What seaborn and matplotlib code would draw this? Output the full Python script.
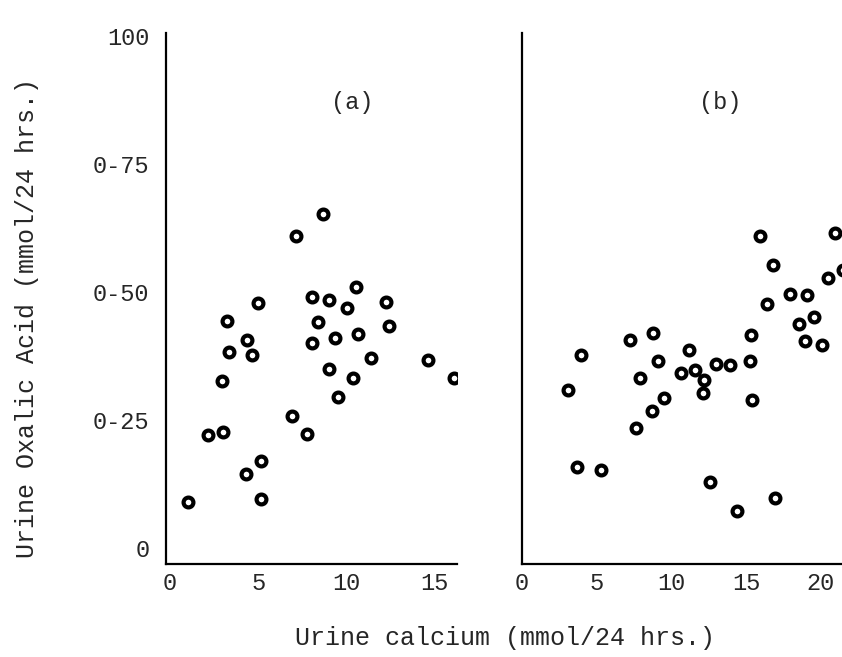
import matplotlib
matplotlib.use("Agg")
import matplotlib.pyplot as plt
import seaborn as sns
import pandas as pd

# ---- data ----
calcium_a = [8.69, 7.12, 10.54, 8.07, 9.00, 5.01, 12.24, 10.05, 3.23, 8.37, 12.43,
             10.66, 9.35, 4.35, 8.07, 3.36, 4.67, 11.38, 14.61, 9.01, 16.10, 10.39,
             2.97, 9.54, 6.92, 2.14, 3.02, 7.75, 5.16, 4.31, 1.00, 5.16]
oxalic_a = [65.2, 61.0, 51.0, 49.1, 48.4, 47.8, 48.1, 46.9, 44.4, 44.1, 43.4,
            41.9, 41.1, 40.6, 40.1, 38.3, 37.8, 37.2, 36.7, 34.9, 33.3, 33.3,
            32.7, 29.6, 25.8, 22.1, 22.6, 22.3, 17.0, 14.5, 9.0, 9.6]

calcium_b = [15.95, 20.98, 16.84, 21.50, 20.49, 17.92, 19.10, 16.40, 19.53, 18.54,
             8.76, 7.24, 18.97, 20.10, 15.35, 3.95, 11.21, 9.14, 15.30, 13.96,
             13.00, 11.60, 10.66, 7.93, 12.22, 3.06, 12.11, 9.54, 15.42, 8.71,
             7.64, 3.69, 5.29, 12.60, 16.96, 14.41]
oxalic_b = [61.0, 61.5, 55.3, 54.3, 52.8, 49.7, 49.4, 47.6, 45.1, 43.75,
            42.1, 40.6, 40.4, 39.6, 41.6, 37.7, 38.7, 36.6, 36.6, 35.7,
            35.9, 34.8, 34.2, 33.3, 32.8, 30.9, 30.2, 29.4, 28.9, 26.8,
            23.5, 15.8, 15.2, 12.95, 9.7, 7.2]

y_ticks = [0, 25, 50, 75, 100]
y_tick_labels = ["0", "0-25", "0-50", "0-75", "100"]
x_ticks_a = [0, 5, 10, 15]
x_ticks_b = [0, 5, 10, 15, 20]
panel_labels = ["(a)", "(b)"]

df_a = pd.DataFrame({"calcium": calcium_a, "oxalic": oxalic_a})
df_b = pd.DataFrame({"calcium": calcium_b, "oxalic": oxalic_b})

sns.set_style("white")
plt.rcParams["font.family"] = ["Liberation Mono", "DejaVu Sans Mono"]

W, H = 842, 657
fig = plt.figure(figsize=(W / 100, H / 100), dpi=100)
fig.patch.set_facecolor("white")

ax_a = fig.add_axes([166 / W, 93 / H, 291 / W, 531 / H])
ax_b = fig.add_axes([522 / W, 93 / H, 330 / W, 531 / H])

marker_kw = dict(s=50, facecolor="white", edgecolor="black", linewidth=3.0,
                 marker="o", zorder=3, legend=False)

sns.scatterplot(data=df_a, x="calcium", y="oxalic", ax=ax_a, **marker_kw)
sns.scatterplot(data=df_b, x="calcium", y="oxalic", ax=ax_b, **marker_kw)

ylim = (-3.1, 100.6)
ax_a.set_xlim(-0.23, 16.27)
ax_b.set_xlim(0, 22.1)
for ax in (ax_a, ax_b):
    ax.set_ylim(*ylim)
    ax.set_xlabel("")
    ax.set_ylabel("")
    for side in ("top", "right"):
        ax.spines[side].set_visible(False)
    for side in ("left", "bottom"):
        ax.spines[side].set_linewidth(1.6)
        ax.spines[side].set_color("black")
    ax.set_yticks(y_ticks)
    ax.tick_params(axis="y", direction="in", length=10, width=1.6, color="black",
                   pad=12, labelsize=17)
    ax.tick_params(axis="x", length=0, pad=6, labelsize=17)
    ax.set_facecolor("white")

ax_a.set_yticklabels(y_tick_labels)
ax_b.set_yticklabels([""] * len(y_ticks))
ax_a.set_xticks(x_ticks_a)
ax_a.set_xticklabels([str(t) for t in x_ticks_a])
ax_b.set_xticks(x_ticks_b)
ax_b.set_xticklabels([str(t) for t in x_ticks_b])

ax_a.text(10.3, 87, panel_labels[0], ha="center", va="center", fontsize=17)
ax_b.text(13.3, 87, panel_labels[1], ha="center", va="center", fontsize=17)

fig.text(505 / W, 1 - 638 / H, "Urine calcium (mmol/24 hrs.)",
         ha="center", va="center", fontsize=18)
fig.text(27 / W, 1 - 318 / H, "Urine Oxalic Acid (mmol/24 hrs.)",
         ha="center", va="center", rotation=90, fontsize=18)

fig.savefig("out.png", dpi=100, facecolor="white")
